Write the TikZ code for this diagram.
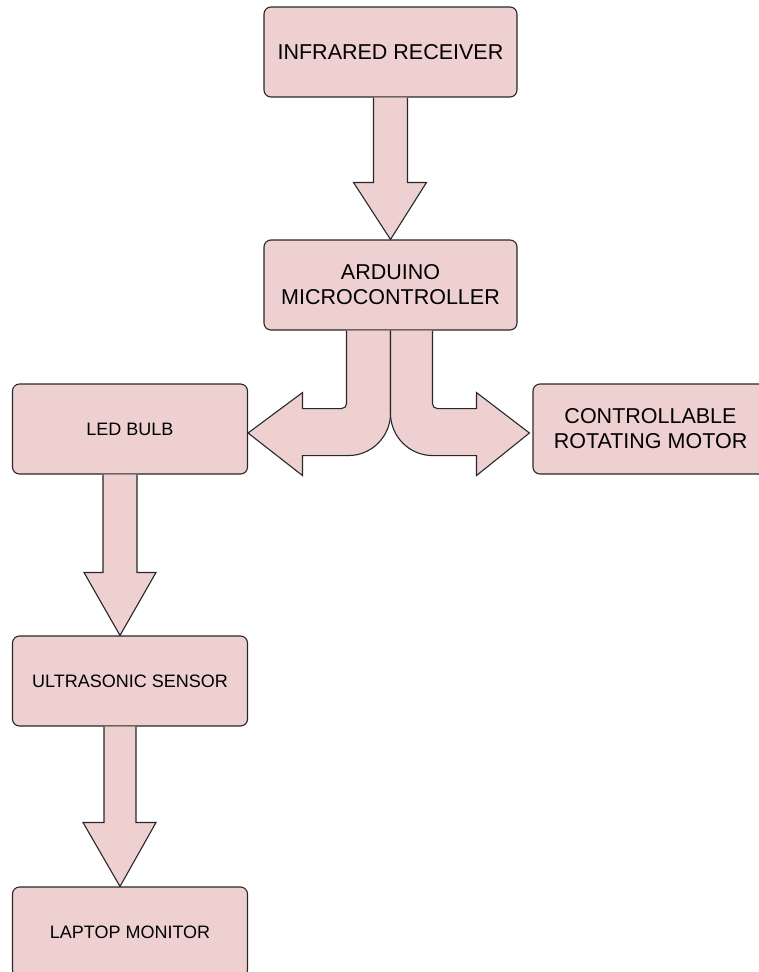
\documentclass[tikz,border=0pt]{standalone}
\usepackage{fontspec}
\setmainfont{Liberation Sans}
\usetikzlibrary{calc}
\definecolor{boxpink}{RGB}{238,208,209}
\definecolor{edgegray}{RGB}{40,40,40}

\begin{document}
\begin{tikzpicture}[x=1pt, y=-1pt,
  every node/.style={rectangle, rounded corners=7pt, draw=edgegray, fill=boxpink, line width=1.1pt, align=center, text=black, minimum height=90pt, inner sep=0pt},
  bigbox/.style={minimum width=253pt, font=\fontsize{21.5}{25}\selectfont},
  smallbox/.style={minimum width=235pt, font=\fontsize{18}{21}\selectfont},
  blockarrow/.style={draw=edgegray, fill=boxpink, line width=1.1pt, line join=miter}]

\useasboundingbox (0,0) rectangle (758,972);

\node[bigbox] (ir) at (390.5,52) {INFRARED RECEIVER};
\node[bigbox] (mcu) at (390.5,285) {ARDUINO\\MICROCONTROLLER};
\node[smallbox] (led) at (130,429) {LED BULB};
\node[smallbox, font=\fontsize{21.5}{25}\selectfont] (motor) at (650.5,429) {CONTROLLABLE\\ROTATING MOTOR};
\node[smallbox] (ultra) at (130,681) {ULTRASONIC SENSOR};
\node[smallbox] (laptop) at (130,932) {LAPTOP MONITOR};

% Frecce
\filldraw[blockarrow] ($(ir.south)+(-17,0)$) -- ($(mcu.north)+(-17,-57)$) -- ($(mcu.north)+(-37,-57)$) -- (mcu.north) -- ($(mcu.north)+(36,-57)$) -- ($(mcu.north)+(17,-57)$) -- ($(ir.south)+(17,0)$);

\begin{scope}[shift={(mcu.south)}]
\filldraw[blockarrow] (-44,0) -- (-44,73) .. controls (-44,76) and (-46,78) .. (-49,78) -- (-88,78) -- (-88,62) -- ($(led.east)+(0,4)$) -- (-88,145) -- (-88,125) -- (-42,125) .. controls (-19,125) and (0,106) .. (0,83) -- (0,0);
\filldraw[blockarrow] (42,0) -- (42,73) .. controls (42,76) and (44,78) .. (47,78) -- (86,78) -- (86,62) -- ($(motor.west)+(-3,4)$) -- (86,145) -- (86,125) -- (42,125) .. controls (19,125) and (0,106) .. (0,83) -- (0,0);
\end{scope}

\filldraw[blockarrow] ($(led.south)+(-27,0)$) -- ($(ultra.north)+(-27,-63)$) -- ($(ultra.north)+(-46,-63)$) -- ($(ultra.north)+(-10,0)$) -- ($(ultra.north)+(26,-63)$) -- ($(ultra.north)+(7,-63)$) -- ($(led.south)+(7,0)$);
\filldraw[blockarrow] ($(ultra.south)+(-26,0)$) -- ($(laptop.north)+(-26,-64)$) -- ($(laptop.north)+(-47,-64)$) -- ($(laptop.north)+(-10,0)$) -- ($(laptop.north)+(26,-64)$) -- ($(laptop.north)+(6,-64)$) -- ($(ultra.south)+(6,0)$);

\end{tikzpicture}
\end{document}
